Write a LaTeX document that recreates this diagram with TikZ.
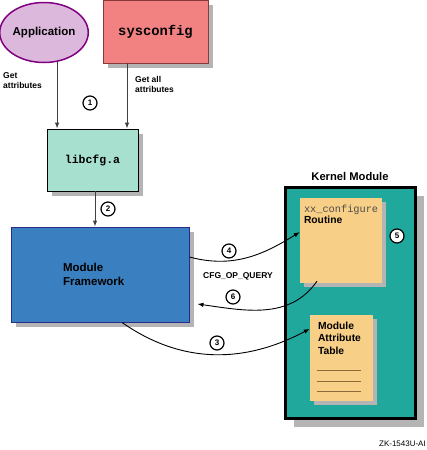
\documentclass[tikz,border=0pt]{standalone}
\usepackage{fontspec}
\setmainfont{Liberation Sans}
\setmonofont{Liberation Mono}
\usetikzlibrary{shapes.geometric,shadows,arrows.meta,positioning}

\definecolor{appfill}{HTML}{DDB8DD}
\definecolor{appline}{HTML}{800080}
\definecolor{sysfill}{HTML}{F28282}
\definecolor{sysline}{HTML}{8B3A3A}
\definecolor{libfill}{HTML}{A8E0D0}
\definecolor{fwfill}{HTML}{3A80C0}
\definecolor{fwline}{HTML}{2A2A8A}
\definecolor{kernfill}{HTML}{20A89C}
\definecolor{pagefill}{HTML}{F8CF86}
\definecolor{shade}{HTML}{B4B4B4}
\definecolor{ruleline}{HTML}{8B6B3B}

\begin{document}
\begin{tikzpicture}[x=1pt, y=-1pt,
    shadowed/.style={drop shadow={shadow xshift=#1, shadow yshift=-#1, fill=shade, opacity=1}},
    box/.style={rectangle, inner sep=0pt},
    num/.style={circle, draw, fill=white, line width=1.2pt, inner sep=0pt, minimum size=14pt, font=\bfseries\fontsize{8}{9}\selectfont},
    note/.style={align=left, inner sep=0pt, font=\bfseries\fontsize{8.5}{10}\selectfont},
    arr/.style={draw=black!75, line width=1pt, -{Latex[length=6pt,width=4.5pt]}},
    curvearr/.style={draw=black, line width=0.9pt, -{Latex[length=6pt,width=4.5pt]}}]
\useasboundingbox (0,0) rectangle (427,450);

% top row
\node[ellipse, draw=appline, line width=1.5pt, fill=appfill, minimum width=87pt, minimum height=60pt, inner sep=0pt,
      font=\bfseries\fontsize{11.5}{13}\selectfont] (app) at (44,32.5) {Application};
\node[box, draw=sysline, line width=0.8pt, fill=sysfill, shadowed=5pt, minimum width=105pt, minimum height=63pt,
      font=\ttfamily\bfseries\fontsize{13.8}{16}\selectfont] (sys) at (155.5,31.5) {sysconfig};

% library and framework
\node[box, draw=black, line width=0.8pt, fill=libfill, shadowed=5pt, minimum width=91pt, minimum height=62pt,
      font=\ttfamily\bfseries\fontsize{11.5}{13}\selectfont] (lib) at (92.5,160) {libcfg.a};
\node[box, draw=fwline, line width=0.9pt, fill=fwfill, shadowed=5pt, minimum width=178pt, minimum height=95pt,
      text width=74pt, align=left, font=\bfseries\fontsize{11.5}{14}\selectfont] (fw) at (100,274.5) {Module\\Framework};

% kernel module
\node[box, draw=black, line width=3pt, fill=kernfill, shadowed=9pt, minimum width=130pt, minimum height=231pt] (kern) at (350,302.5) {};
\node[above=5pt of kern, inner sep=0pt, font=\bfseries\fontsize{11.2}{13}\selectfont] (kerntitle) {Kernel Module};
\node[box, fill=pagefill, shadowed=4pt, minimum width=82pt, minimum height=85pt] (rout) at (341,240.5) {};
\node[anchor=north west, align=left, inner sep=0pt] (routtxt) at ([xshift=4pt,yshift=-7pt]rout.north west)
      {{\ttfamily\fontsize{10.3}{12}\selectfont\color{black!70}xx\_configure}\\[-1pt]{\bfseries\fontsize{10.3}{12}\selectfont Routine}};
\node[box, fill=pagefill, shadowed=4pt, minimum width=63pt, minimum height=86pt] (tab) at (341.5,358) {};
\node[anchor=north west, align=left, inner sep=0pt, font=\bfseries\fontsize{10.3}{12.5}\selectfont] (tabtxt)
      at ([xshift=8pt,yshift=-7pt]tab.north west) {Module\\Attribute\\Table};
\foreach \y in {370,381,391}
  \draw[ruleline, line width=0.8pt] (317,\y) -- (361,\y);

% labels
\node[note, anchor=north west] (getlbl) at (3,72) {Get\\attributes};
\node[note, anchor=north west] (getalllbl) at (135,76) {Get all\\attributes};
\node[note] (querylbl) at (238,276) {CFG\_OP\_QUERY};
\node[anchor=east, inner sep=0pt, font=\fontsize{8}{9}\selectfont] (tag) at (426,444) {ZK-1543U-AI};

% straight arrows
\draw[arr] (app.-66) -- (app.-66 |- lib.north);
\draw[arr] ([xshift=-28.5pt]sys.south) -- ([xshift=-28.5pt]sys.south |- lib.north);
\draw[arr] ([xshift=2.5pt]lib.south) -- ([xshift=2.5pt]lib.south |- fw.north);

% curved arrows
\draw[curvearr] ([yshift=17.5pt]fw.east) to[out=-15, in=-148] ([yshift=8.5pt]rout.west);
\draw[curvearr] ([xshift=-24pt,yshift=2pt]rout.south) to[out=-125, in=-8] ([xshift=8pt,yshift=-29.5pt]fw.east);
\draw[curvearr] ([xshift=22pt]fw.south) to[out=-35, in=-152] ([yshift=-14pt]tab.north west);

% step numbers
\node[num] (n1) at (90,103) {1};
\node[num] (n2) at (108,209) {2};
\node[num] (n3) at (217,343) {3};
\node[num] (n4) at (229,251) {4};
\node[num] (n5) at (397,236) {5};
\node[num] (n6) at (233,297) {6};
\end{tikzpicture}
\end{document}
